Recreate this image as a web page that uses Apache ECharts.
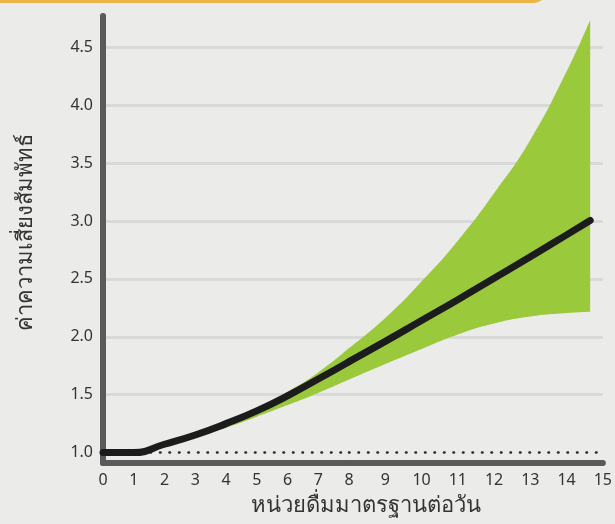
<!DOCTYPE html>
<html>
<head>
<meta charset="utf-8">
<script src="https://cdn.jsdelivr.net/npm/echarts@6/dist/echarts.min.js"></script>
<style>
  html, body { margin: 0; padding: 0; background: #ebebea; }
  #main { width: 615px; height: 524px; }
</style>
</head>
<body>
<div id="main"></div>
<script>
// หน่วยดื่มมาตรฐานต่อวัน (x) -- the printed tick labels are not evenly spaced,
// so 0-8 and 8-15 are drawn in two side-by-side grids
const drinks = [0, 1, 2, 3, 4, 5, 6, 7, 8, 9, 10, 11, 12, 13, 14, 14.65]
// ค่าความเสี่ยงสัมพัทธ์ (เส้นกลาง)
const riskMean = [1.0, 1.0, 1.072, 1.152, 1.25, 1.36, 1.49, 1.635, 1.785, 1.96, 2.14, 2.32, 2.505, 2.69, 2.88, 3.005]
// ขอบบน / ขอบล่างของช่วงความเชื่อมั่น
const riskUpper = [1.0, 1.0, 1.076, 1.158, 1.262, 1.38, 1.525, 1.692, 1.902, 2.162, 2.477, 2.83, 3.24, 3.70, 4.29, 4.736]
const riskLower = [1.0, 1.0, 1.065, 1.135, 1.215, 1.31, 1.41, 1.515, 1.63, 1.765, 1.895, 2.02, 2.115, 2.175, 2.205, 2.217]
const splitAt = 8 // index of x = 8, shared by both grids

const yName = 'ค่าความเสี่ยงสัมพัทธ์'
const xName = 'หน่วยดื่มมาตรฐานต่อวัน'

const FONT = '"Noto Sans", "DejaVu Sans", sans-serif'
const AXIS_GRAY = '#5a5a5a'
const GRID_GRAY = '#d9d9d9'
const SMOOTH = 0.5

const bandWidth = riskUpper.map((u, i) => u - riskLower[i])

// [y, x] so that the stacked dimension is the risk value (encode below)
function pairs(vals, from, to) {
  return drinks.slice(from, to + 1).map((x, i) => [vals[from + i], x])
}

const chart = echarts.init(document.getElementById('main'), null, { renderer: 'canvas' })

const ranges = [[0, splitAt], [splitAt, drinks.length - 1]]
const series = []
ranges.forEach((r, g) => {
  const base = {
    type: 'line',
    xAxisIndex: g,
    yAxisIndex: g,
    encode: { x: 1, y: 0 },
    smooth: SMOOTH,
    symbol: 'none',
    silent: true
  }
  series.push(Object.assign({}, base, {
    stack: 'band' + g,
    data: pairs(riskLower, r[0], r[1]),
    lineStyle: { width: 0, opacity: 0 },
    z: 2,
    markLine: {
      silent: true,
      symbol: 'none',
      label: { show: false },
      lineStyle: { color: '#2a2a2a', width: 2.6, type: [0.5, 9], cap: 'round' },
      data: [{ yAxis: 1 }],
      z: 1
    }
  }))
  series.push(Object.assign({}, base, {
    stack: 'band' + g,
    data: pairs(bandWidth, r[0], r[1]),
    lineStyle: { width: 0, opacity: 0 },
    areaStyle: { color: '#9ac93c', opacity: 1 },
    z: 3
  }))
  series.push(Object.assign({}, base, {
    data: pairs(riskMean, r[0], r[1]),
    lineStyle: { color: '#1c1c1c', width: 7, cap: 'round' },
    z: 4
  }))
})

const yCommon = {
  type: 'value',
  min: 0.91,
  max: 4.77,
  splitNumber: 8,
  axisTick: { show: false },
  splitLine: {
    show: true,
    showMinLine: false,
    showMaxLine: false,
    lineStyle: { color: ['rgba(0,0,0,0)', GRID_GRAY, GRID_GRAY, GRID_GRAY, GRID_GRAY, GRID_GRAY, GRID_GRAY, GRID_GRAY], width: 3 }
  }
}

const option = {
  backgroundColor: '#ebebea',
  animation: false,
  title: {
    text: xName,
    left: 361,
    top: 490,
    textAlign: 'center',
    textStyle: { fontFamily: FONT, fontSize: 22, fontWeight: 'normal', color: '#333' }
  },
  graphic: [{
    type: 'rect',
    shape: { x: -20, y: -24, width: 567, height: 27, r: 14 },
    style: { fill: '#ecb444' },
    silent: true
  }],
  grid: [
    { left: 103, top: 16, width: 246, height: 447 },
    { left: 349, top: 16, width: 262, height: 447 }
  ],
  xAxis: [0, 1].map(g => ({
    type: 'value',
    gridIndex: g,
    min: g === 0 ? 0 : 8,
    max: g === 0 ? 8 : 15,
    interval: 1,
    axisLine: { show: true, lineStyle: { color: AXIS_GRAY, width: 6, cap: 'round' } },
    axisTick: { show: false },
    splitLine: { show: false },
    axisLabel: {
      showMinLabel: g === 0,
      margin: 9,
      fontFamily: FONT,
      fontSize: 16,
      color: '#333'
    }
  })),
  yAxis: [
    Object.assign({}, yCommon, {
      gridIndex: 0,
      name: yName,
      nameLocation: 'middle',
      nameRotate: 90,
      nameGap: 66,
      nameTextStyle: { fontFamily: FONT, fontSize: 22, color: '#333', padding: [0, 0, 0, 14] },
      axisLine: { show: true, lineStyle: { color: AXIS_GRAY, width: 6, cap: 'round' } },
      axisLabel: {
        showMinLabel: false,
        showMaxLabel: false,
        margin: 10,
        fontFamily: FONT,
        fontSize: 16,
        color: '#333',
        formatter: v => v.toFixed(1)
      }
    }),
    Object.assign({}, yCommon, {
      gridIndex: 1,
      axisLine: { show: false },
      axisLabel: { show: false }
    })
  ],
  series: series
}

chart.setOption(option)
</script>
</body>
</html>
